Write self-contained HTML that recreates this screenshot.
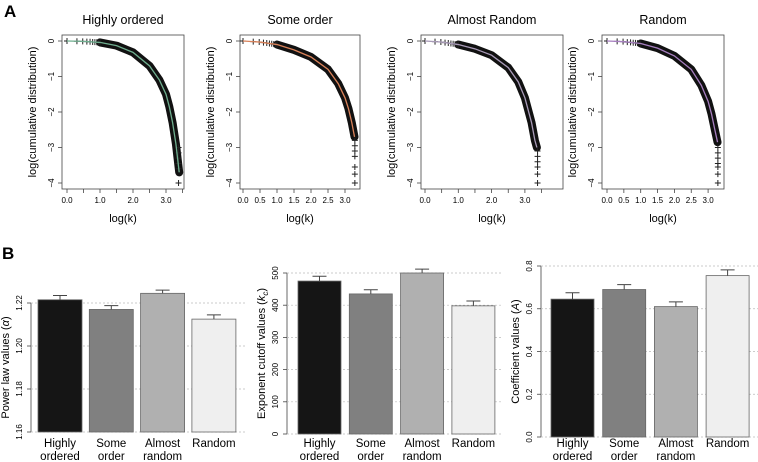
<!DOCTYPE html>
<html><head><meta charset="utf-8"><style>
body{margin:0;background:#fff}
svg{display:block;font-family:"Liberation Sans",sans-serif}
</style></head><body>
<svg id="fig" width="758" height="462" viewBox="0 0 758 462">
<text x="4" y="17" font-size="17" font-weight="bold">A</text>
<text x="2" y="259" font-size="17" font-weight="bold">B</text>
</svg>
<script>
// ---- Panel A data ----
const titlesA = ["Highly ordered","Some order","Almost Random","Random"];
const curveX1 = [0,0.5,1.0,1.5,2.0,2.5,2.8,3.0,3.1,3.2,3.3,3.35,3.4];
const curveY1 = [0,-0.01,-0.04,-0.13,-0.32,-0.7,-1.1,-1.5,-1.85,-2.3,-2.9,-3.3,-3.7];
const curveX2 = [0,0.5,1.0,1.5,2.0,2.5,2.8,3.0,3.1,3.2,3.28];
const curveY2 = [0,-0.03,-0.1,-0.25,-0.45,-0.8,-1.2,-1.6,-1.9,-2.3,-2.7];
const curveX3 = [0,0.5,1.0,1.5,2.0,2.5,2.8,3.0,3.2,3.3,3.36];
const curveY3 = [0,-0.03,-0.1,-0.22,-0.4,-0.75,-1.15,-1.6,-2.3,-2.8,-3.0];
const curveX4 = [0,0.5,1.0,1.5,2.0,2.5,2.8,3.0,3.1,3.2,3.28];
const curveY4 = [0,-0.02,-0.07,-0.2,-0.42,-0.8,-1.25,-1.7,-2.05,-2.5,-2.85];
const tailY1 = [-3.0,-3.15,-3.3,-3.45,-3.6,-4.0];
const tailY2 = [-2.8,-2.95,-3.1,-3.25,-3.55,-3.75,-4.0];
const tailY3 = [-3.1,-3.25,-3.4,-3.55,-3.75,-4.0];
const tailY4 = [-3.0,-3.15,-3.3,-3.45,-3.55,-3.75,-4.0];
const lowKX = [0,0.301,0.477,0.602,0.699,0.778,0.845,0.903,0.954,1.0];
const yTicksA = [0,-1,-2,-3,-4];
const yTickLabelsA = ["0","\u22121","\u22122","\u22123","\u22124"];
const xTicksA1 = [0,0.5,1,1.5,2,2.5,3,3.5];
const xTickLabelsA1 = ["0.0","","1.0","","2.0","","3.0",""];
const xTicksA2 = [0,0.5,1,1.5,2,2.5,3];
const xTickLabelsA2 = ["0.0","0.5","1.0","1.5","2.0","2.5","3.0"];

// ---- Panel B data ----
const catsB = [["Highly","ordered"],["Some","order"],["Almost","random"],["Random",""]];
const alphaVals = [1.2215,1.217,1.2245,1.2125];
const alphaErr = [0.002,0.0018,0.0015,0.002];
const kcVals = [475,435,500,398];
const kcErr = [15,13,12,15];
const aVals = [0.645,0.69,0.61,0.755];
const aErr = [0.03,0.023,0.022,0.027];
const alphaTicks = [1.16,1.18,1.20,1.22];
const alphaTickLabels = ["1.16","1.18","1.20","1.22"];
const kcTicks = [0,100,200,300,400,500];
const kcTickLabels = ["0","100","200","300","400","500"];
const aTicks = [0,0.2,0.4,0.6,0.8];
const aTickLabels = ["0.0","0.2","0.4","0.6","0.8"];

const NS="http://www.w3.org/2000/svg";
const svg=document.getElementById('fig');
function mk(tag,attrs,parent){const e=document.createElementNS(NS,tag);for(const k in attrs)e.setAttribute(k,attrs[k]);(parent||svg).appendChild(e);return e;}

const panelsA=[
 {bx0:62,bx1:184,px0:67,ppu:33,cx:curveX1,cy:curveY1,tail:tailY1,tx:3.38,col:"#6fae8f",ticks:xTicksA1,labs:xTickLabelsA1},
 {bx0:240,bx1:360,px0:243,ppu:34,cx:curveX2,cy:curveY2,tail:tailY2,tx:3.29,col:"#d9825a",ticks:xTicksA2,labs:xTickLabelsA2},
 {bx0:421,bx1:563,px0:425,ppu:33.3,cx:curveX3,cy:curveY3,tail:tailY3,tx:3.38,col:"#a99bb8",ticks:xTicksA1,labs:xTickLabelsA1},
 {bx0:602,bx1:724,px0:607,ppu:33.7,cx:curveX4,cy:curveY4,tail:tailY4,tx:3.29,col:"#a77fc0",ticks:xTicksA2,labs:xTickLabelsA2}
];
function interp(xs,ys,x){for(let i=1;i<xs.length;i++){if(x<=xs[i]){const t=(x-xs[i-1])/(xs[i]-xs[i-1]);return ys[i-1]+t*(ys[i]-ys[i-1]);}}return ys[ys.length-1];}
panelsA.forEach((p,i)=>{
 const g=mk('g',{});
 
 
 const X=v=>p.px0+v*p.ppu, Y=v=>41-v*35.5;
 const box=mk('rect',{x:p.bx0,y:35,width:p.bx1-p.bx0,height:154,fill:'none',stroke:'#444','stroke-width':0.8},g);
 
 const t=mk('text',{x:(p.bx0+p.bx1)/2,y:24,'font-size':12.5,'text-anchor':'middle'},g);t.textContent=titlesA[i];
 
 yTicksA.forEach((v,j)=>{mk('line',{x1:p.bx0-4,x2:p.bx0,y1:Y(v),y2:Y(v),stroke:'#444','stroke-width':0.8},g);
  const l=mk('text',{x:p.bx0-8,y:Y(v),'font-size':8,'text-anchor':'middle',transform:`rotate(-90 ${p.bx0-8} ${Y(v)})`,dy:0},g);l.textContent=yTickLabelsA[j];
  });
 p.ticks.forEach((v,j)=>{mk('line',{x1:X(v),x2:X(v),y1:189,y2:193,stroke:'#444','stroke-width':0.8},g);
  if(p.labs[j]){const l=mk('text',{x:X(v),y:203,'font-size':8,'text-anchor':'middle'},g);l.textContent=p.labs[j];
  }});
 const xl=mk('text',{x:(p.bx0+p.bx1)/2,y:222,'font-size':11,'text-anchor':'middle'},g);xl.textContent='log(k)';
 
 const yx=p.bx0-26, yy=112;
 const yl=mk('text',{x:yx,y:yy,'font-size':11,'text-anchor':'middle',transform:`rotate(-90 ${yx} ${yy})`},g);yl.textContent='log(cumulative distribution)';
 
 const pts=p.cx.map((x,k)=>X(x)+','+Y(p.cy[k])).filter((s,k)=>p.cx[k]>=0.9).join(' ');
 const band=mk('polyline',{points:pts,fill:'none',stroke:'#111','stroke-width':8,'stroke-linejoin':'round','stroke-linecap':'round'},g);
 
 const markers=[];
 lowKX.forEach(x=>markers.push([X(x),Y(interp(p.cx,p.cy,x))]));
 p.tail.forEach(y=>markers.push([X(p.tx),Y(y)]));
 markers.forEach(([mx,my])=>{const m=mk('path',{d:`M${mx-3} ${my}H${mx+3}M${mx} ${my-3}V${my+3}`,stroke:'#222','stroke-width':1},g);
  });
 const fit=mk('polyline',{points:p.cx.map((x,k)=>X(x)+','+Y(p.cy[k])).join(' '),fill:'none',stroke:p.col,'stroke-width':1.3},g);
 
});

const fills=["#151515","#808080","#b0b0b0","#efefef"];
const panelsB=[
 {vals:alphaVals,err:alphaErr,ticks:alphaTicks,labs:alphaTickLabels,ax:31,bar0:38,step:51.3,bw:44,y0:432,ymin:1.16,ppu:2150,gx1:245,title:'Power law values (',sym:'\u03b1',tx:9},
 {vals:kcVals,err:kcErr,ticks:kcTicks,labs:kcTickLabels,ax:287,bar0:298,step:51.3,bw:43,y0:434,ymin:0,ppu:0.322,gx1:502,title:'Exponent cutoff values (',sym:'k',sub:'c',tx:265},
 {vals:aVals,err:aErr,ticks:aTicks,labs:aTickLabels,ax:541,bar0:551,step:51.7,bw:43,y0:437,ymin:0,ppu:213.75,gx1:758,title:'Coefficient values (',sym:'A',tx:519}
];
panelsB.forEach((p,i)=>{
 const g=mk('g',{});
 
 
 const Y=v=>p.y0-(v-p.ymin)*p.ppu;
 const top=Y(p.ticks[p.ticks.length-1]);
 mk('line',{x1:p.ax,x2:p.ax,y1:Y(p.ticks[0]),y2:top,stroke:'#444','stroke-width':0.8},g);
 p.ticks.forEach((v,j)=>{
  const gl=mk('line',{x1:p.ax,x2:p.gx1,y1:Y(v),y2:Y(v),stroke:'#bbb','stroke-width':0.7,'stroke-dasharray':'2,2'},g);
  
  mk('line',{x1:p.ax-4,x2:p.ax,y1:Y(v),y2:Y(v),stroke:'#444','stroke-width':0.8},g);
  const lx=p.ax-9;const l=mk('text',{x:lx,y:Y(v),'font-size':8,'text-anchor':'middle',transform:`rotate(-90 ${lx} ${Y(v)})`},g);l.textContent=p.labs[j];
  
 });
 p.vals.forEach((v,j)=>{
  const x=p.bar0+j*p.step;
  const r=mk('rect',{x:x,y:Y(v),width:p.bw,height:p.y0-Y(v),fill:fills[j],stroke:'#666','stroke-width':0.8},g);
  
  const cx=x+p.bw/2, et=Y(v+p.err[j]);
  const e=mk('path',{d:`M${cx} ${Y(v)}V${et}M${cx-7} ${et}H${cx+7}`,stroke:'#444','stroke-width':1,fill:'none'},g);
  
  catsB[j].forEach((s,k)=>{if(!s)return;const t=mk('text',{x:cx,y:447+k*13,'font-size':11.5,'text-anchor':'middle'},g);t.textContent=s;
   });
 });
 const ty=(Y(p.ticks[0])+top)/2;
 const t=mk('text',{x:p.tx,y:ty,'font-size':11,'text-anchor':'middle',transform:`rotate(-90 ${p.tx} ${ty})`},g);
 
 t.appendChild(document.createTextNode(p.title));
 const s=mk('tspan',{'font-style':'italic'},t);s.textContent=p.sym;
 if(p.sub){const sb=mk('tspan',{'font-size':8,dy:3,'font-style':'italic'},t);sb.textContent=p.sub;const cl=mk('tspan',{dy:-3},t);cl.textContent=')';}
 else{t.appendChild(document.createTextNode(')'));}
});
</script>
</body></html>
